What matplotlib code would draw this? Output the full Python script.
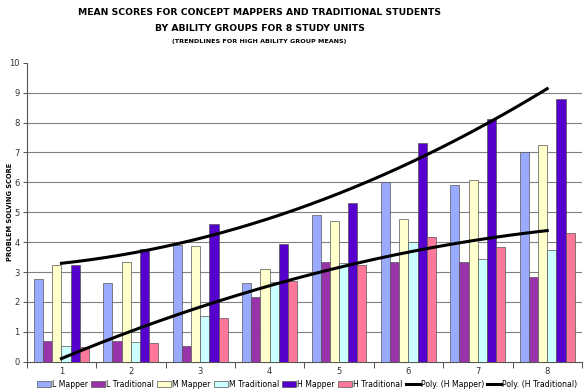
import numpy as np
import matplotlib.pyplot as plt


# ==========================
# Data
# ==========================

units = [1, 2, 3, 4, 5, 6, 7, 8]

l_mapper = [2.76, 2.64, 3.90, 2.64, 4.90, 6.01, 5.90, 7.00]
l_traditional = [0.68, 0.68, 0.52, 2.17, 3.33, 3.33, 3.33, 2.83]
m_mapper = [3.23, 3.32, 3.86, 3.09, 4.70, 4.77, 6.09, 7.24]
m_traditional = [0.52, 0.65, 1.52, 2.65, 3.29, 4.00, 3.43, 3.72]
h_mapper = [3.23, 3.76, 4.60, 3.94, 5.30, 7.30, 8.13, 8.77]
h_traditional = [0.50, 0.61, 1.45, 2.69, 3.22, 4.17, 3.84, 4.29]

series_names = [
    "L Mapper",
    "L Traditional",
    "M Mapper",
    "M Traditional",
    "H Mapper",
    "H Traditional",
]

colors = ["#99aaff", "#9933aa", "#ffffcc", "#ccffff", "#5500cc", "#ff7799"]


# ==========================
# Figure
# ==========================

plt.rcParams["font.family"] = ["DejaVu Sans"]

fig = plt.figure(figsize=(5.86, 3.92), dpi=100)
ax = fig.add_axes([0.0456, 0.0773, 0.9474, 0.7627])

x = np.array(units, dtype=float)
w = 0.132

all_series = [l_mapper, l_traditional, m_mapper, m_traditional, h_mapper, h_traditional]

bar_handles = []
for i, vals in enumerate(all_series):
    b = ax.bar(
        x + (i - 2.5) * w,
        vals,
        width=w,
        color=colors[i],
        edgecolor="#555555",
        linewidth=0.5,
        label=series_names[i],
        zorder=3,
    )
    bar_handles.append(b)


# trendlines (2nd order polynomial of the high ability means)

xs = np.linspace(1, 8, 200)

p_hm = np.polyfit(x, h_mapper, 2)
p_ht = np.polyfit(x, h_traditional, 2)

l1, = ax.plot(xs, np.polyval(p_hm, xs), color="black", lw=2.2, label="Poly. (H Mapper)", zorder=4)
l2, = ax.plot(xs, np.polyval(p_ht, xs), color="black", lw=2.2, label="Poly. (H Traditional)", zorder=4)


# ==========================
# Axes
# ==========================

ax.set_xlim(0.5, 8.5)
ax.set_ylim(0, 10)

ax.set_yticks(range(0, 11))
ax.tick_params(axis="y", labelsize=6, colors="#333333", length=3, width=0.6, pad=2)

ax.set_xticks(np.arange(0.5, 9.0, 1.0))
ax.set_xticklabels([])
ax.set_xticks(x, minor=True)
ax.set_xticklabels([str(u) for u in units], minor=True)
ax.tick_params(axis="x", which="major", length=4, width=0.6, colors="#333333")
ax.tick_params(axis="x", which="minor", length=0, labelsize=6, colors="#333333", pad=4)

ax.yaxis.grid(True, color="#808080", linewidth=0.8, zorder=0)
ax.get_ygridlines()[-1].set_visible(False)
ax.get_ygridlines()[0].set_visible(False)

for side in ["top", "right"]:
    ax.spines[side].set_visible(False)
for side in ["left", "bottom"]:
    ax.spines[side].set_color("#555555")
    ax.spines[side].set_linewidth(0.8)

ax.set_ylabel("PROBLEM SOLVING SCORE", fontsize=4.8, fontweight="bold")
ax.yaxis.set_label_coords(-0.025, 0.5)


# ==========================
# Titles
# ==========================

fig.text(0.443, 0.968, "MEAN SCORES FOR CONCEPT MAPPERS AND TRADITIONAL STUDENTS",
         ha="center", va="center", fontsize=6.7, fontweight="bold")
fig.text(0.443, 0.928, "BY ABILITY GROUPS FOR 8 STUDY UNITS",
         ha="center", va="center", fontsize=6.7, fontweight="bold")
fig.text(0.443, 0.893, "(TRENDLINES FOR HIGH ABILITY GROUP MEANS)",
         ha="center", va="center", fontsize=4.6, fontweight="bold")


# ==========================
# Legend
# ==========================

ax.legend(
    handles=bar_handles + [l1, l2],
    loc="upper center",
    bbox_to_anchor=(0.505, -0.05),
    ncol=8,
    fontsize=5.6,
    frameon=False,
    handlelength=1.8,
    handleheight=0.7,
    handletextpad=0.15,
    columnspacing=0.4,
    borderaxespad=0,
)

plt.savefig("out.png", dpi=100)
plt.close()
